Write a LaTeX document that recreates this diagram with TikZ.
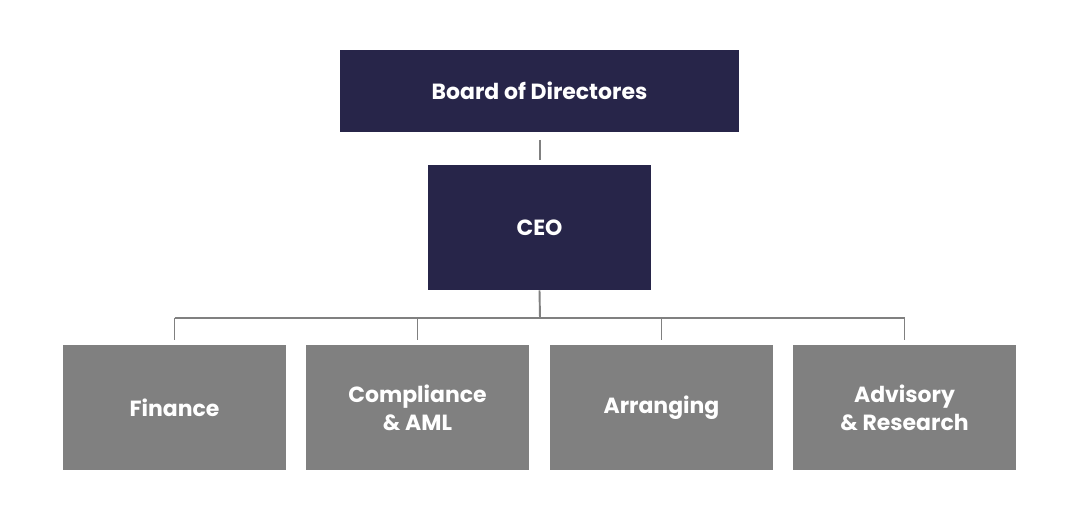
\documentclass[tikz,border=0pt]{standalone}
\usepackage{fontspec}
\setmainfont{Poppins}
\usetikzlibrary{positioning}
\definecolor{navy}{HTML}{272549}
\definecolor{unitgray}{HTML}{808080}
\tikzset{
  head/.style={fill=navy, text=white, font=\fontsize{12.5}{16}\selectfont\bfseries, align=center, inner sep=0pt},
  unit/.style={fill=unitgray, text=white, minimum width=223*0.02cm, minimum height=125*0.02cm, font=\fontsize{12.5}{16}\selectfont\bfseries, align=center, inner sep=0pt},
  link/.style={draw=unitgray, line width=1.1pt}
}
\begin{document}
\begin{tikzpicture}[x=0.02cm,y=-0.02cm]
  \useasboundingbox (0,0) rectangle (1080,509);
  \node[head, minimum width=399*0.02cm, minimum height=82*0.02cm] (board) at (539.5,91) {Board of Directores};
  \node[head, minimum width=223*0.02cm, minimum height=125*0.02cm] (ceo) at (539.5,227.5) {CEO};

  \node[unit] (fin) at (174.5,407.5) {Finance};
  \node[unit] (comp) at (417.5,407.5) {Compliance\\\& AML};
  \node[unit] (arr) at (661.5,407.5) {Arranging};
  \node[unit] (adv) at (904.5,407.5) {Advisory\\\& Research};

  % connectors
  \coordinate (b1) at (540,140);
  \coordinate (b2) at (540,160);
  \draw[link] (b1) -- (b2);
  \coordinate (bus) at (540,318);
  \draw[link] (ceo.south) -- (bus);
  \draw[link] (174.5,318) -- (904.5,318);
  \foreach \n in {fin,comp,arr,adv}
    \draw[link] (\n.north |- bus) -- ([yshift=5*0.02cm]\n.north);
\end{tikzpicture}
\end{document}
